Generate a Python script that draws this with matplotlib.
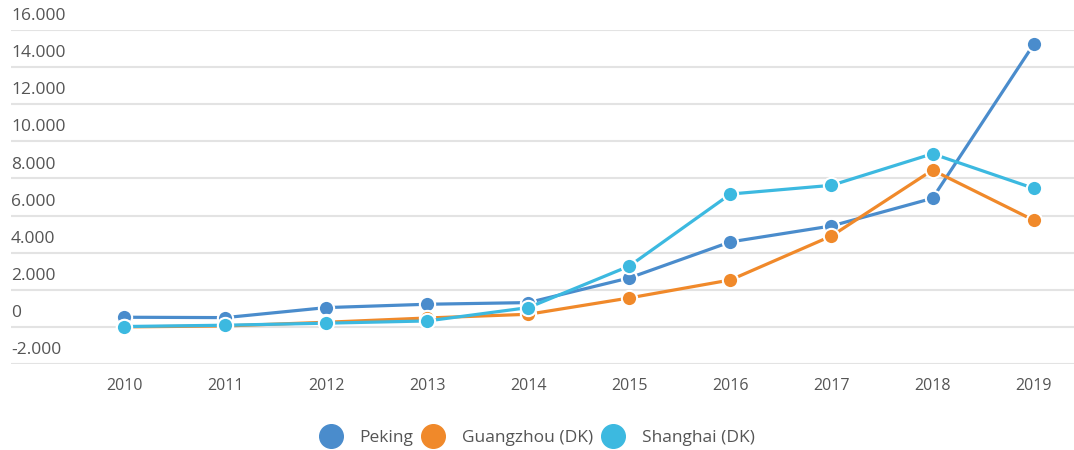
import matplotlib.pyplot as plt
import matplotlib.transforms as mtransforms
from matplotlib.lines import Line2D

plt.rcParams['font.family'] = ['Open Sans', 'DejaVu Sans']

years = [2010, 2011, 2012, 2013, 2014, 2015, 2016, 2017, 2018, 2019]
peking = [520, 500, 1040, 1220, 1310, 2640, 4580, 5440, 6930, 15220]
guangzhou = [0, 50, 250, 480, 680, 1560, 2530, 4900, 8450, 5750]
shanghai = [20, 90, 200, 320, 1040, 3280, 7160, 7630, 9330, 7470]

series = [
    ("Peking", peking, "#4a8ccc"),
    ("Guangzhou (DK)", guangzhou, "#f0892a"),
    ("Shanghai (DK)", shanghai, "#3cb9e0"),
]
yticks = [-2000, 0, 2000, 4000, 6000, 8000, 10000, 12000, 14000, 16000]
txt = "#555555"

fig = plt.figure(figsize=(10.74, 4.5), dpi=100)
ax = fig.add_axes([11 / 1074, 1 - 364 / 450, 1 - 11 / 1074, (364 - 30) / 450])

x = list(range(len(years)))
for name, vals, col in series:
    ax.plot(x, vals, color=col, lw=2.3, marker="o", ms=11,
            markeredgecolor="white", markeredgewidth=1.5, zorder=3)

ax.set_ylim(-2000, 16000)
ax.set_xlim(-1.12, len(years) - 1 + 0.4)
ax.set_yticks(yticks)
ax.grid(axis="y", color="#e3e3e3", lw=1.5)
ax.set_axisbelow(True)
ax.tick_params(axis="y", length=0, labelleft=False)
ax.set_xticks(x)
ax.set_xticklabels([str(y) for y in years], fontsize=11.5, color=txt)
ax.tick_params(axis="x", length=0, pad=10)
for s in ax.spines.values():
    s.set_visible(False)

trans = mtransforms.blended_transform_factory(ax.transAxes, ax.transData)
for v in yticks:
    lab = f"{v:,}".replace(",", ".")
    ax.text(0.0, v + 320, lab, transform=trans, ha="left", va="bottom",
            fontsize=12.5, color=txt)

handles = [Line2D([], [], ls="", marker="o", ms=17, color=c, markeredgecolor=c)
           for _, _, c in series]
fig.legend(handles, [n for n, _, _ in series], loc="center",
           bbox_to_anchor=(0.5, 1 - 438 / 450), ncol=3, frameon=False,
           fontsize=12.5, labelcolor=txt, handletextpad=1.0, columnspacing=0.5,
           handlelength=1.3)

fig.savefig("out.png", dpi=100)
